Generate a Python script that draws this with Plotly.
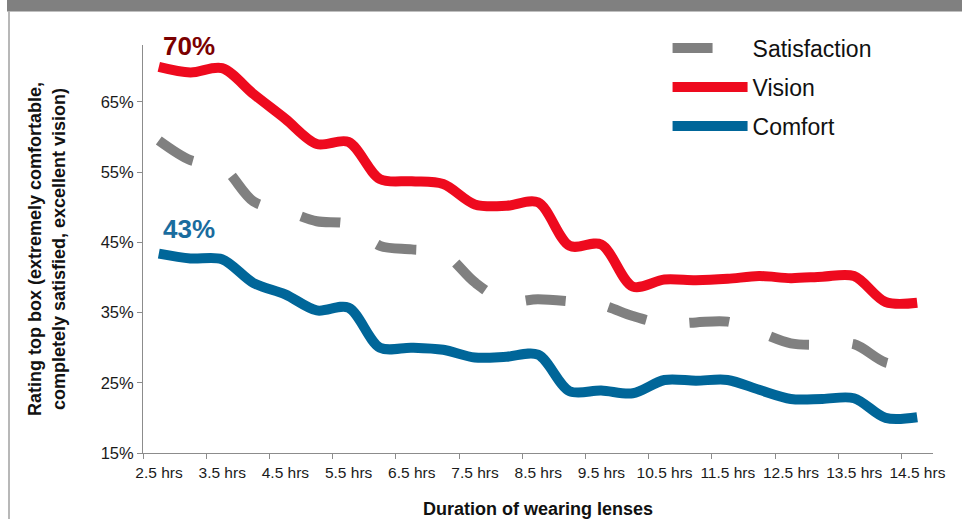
import plotly.graph_objects as go

hours = [2.5, 3.0, 3.5, 4.0, 4.5, 5.0, 5.5, 6.0, 6.5, 7.0, 7.5, 8.0, 8.5,
         9.0, 9.5, 10.0, 10.5, 11.0, 11.5, 12.0, 12.5, 13.0, 13.5, 14.0, 14.5]

satisfaction = [59.5, 56.7, 55.8, 50.8, 49.5, 48.0, 47.6, 44.5, 44.0, 43.5, 39.3, 36.6, 36.9,
                36.6, 36.1, 34.5, 33.4, 33.6, 33.7, 32.2, 30.6, 30.4, 30.5, 27.9, 27.5]
vision = [70.0, 69.2, 69.8, 66.1, 62.6, 59.0, 59.3, 54.0, 53.7, 53.3, 50.4, 50.2, 50.7,
          44.5, 44.7, 38.7, 39.7, 39.6, 39.8, 40.2, 39.9, 40.1, 40.2, 36.5, 36.4]
comfort = [43.4, 42.7, 42.6, 39.2, 37.6, 35.3, 35.7, 30.0, 30.0, 29.7, 28.6, 28.7, 29.0,
           23.8, 23.9, 23.5, 25.4, 25.3, 25.4, 24.0, 22.7, 22.7, 22.8, 20.0, 20.1]

tick_hours = [2.5, 3.5, 4.5, 5.5, 6.5, 7.5, 8.5, 9.5, 10.5, 11.5, 12.5, 13.5, 14.5]
tick_labels = [f"{h} hrs" for h in tick_hours]
y_ticks = [15, 25, 35, 45, 55, 65]
y_labels = [f"{v}%" for v in y_ticks]

FONT = "Liberation Sans, Arial, sans-serif"
GRAY = "#808080"
RED = "#EE0A1E"
BLUE = "#006699"
DARKRED = "#7B0000"
LABELBLUE = "#1A6C9E"

fig = go.Figure()
fig.add_trace(go.Scatter(x=hours, y=satisfaction, name="Satisfaction", mode="lines",
                         line=dict(color=GRAY, width=10, dash="40px,43.5px", shape="spline", smoothing=0.9),
                         legendgroup="a"))
fig.add_trace(go.Scatter(x=hours, y=vision, name="Vision", mode="lines",
                         line=dict(color=RED, width=10, shape="spline", smoothing=0.9),
                         legendgroup="b"))
fig.add_trace(go.Scatter(x=hours, y=comfort, name="Comfort", mode="lines",
                         line=dict(color=BLUE, width=10, shape="spline", smoothing=0.9),
                         legendgroup="c"))

# boundaries between categories for tick marks
tick_pos = [h - 0.25 for h in tick_hours]

fig.update_layout(
    width=962, height=519,
    margin=dict(l=143, r=29, t=45, b=66),
    paper_bgcolor="white", plot_bgcolor="white",
    font=dict(family=FONT, color="#1a1a1a"),
    showlegend=True,
    legend=dict(x=0.664, y=1.045, xanchor="left", yanchor="top",
                font=dict(size=23, family=FONT, color="#111"),
                itemwidth=75, tracegroupgap=6, traceorder="grouped",
                bgcolor="rgba(0,0,0,0)"),
    xaxis=dict(range=[2.25, 14.75], tickmode="array", tickvals=tick_pos, ticktext=tick_labels,
               ticklabelshift=16, ticks="outside", ticklen=5, tickcolor="#8c8c8c",
               showline=True, linecolor="#8c8c8c", linewidth=1, showgrid=False, zeroline=False,
               automargin=False,
               tickfont=dict(size=15.5, family=FONT, color="#1a1a1a"),
               title=dict(text="<b>Duration of wearing lenses</b>", font=dict(size=18, family=FONT, color="#111"),
                          standoff=30)),
    yaxis=dict(range=[15, 73.1], tickmode="array", tickvals=y_ticks, ticktext=y_labels,
               ticks="outside", ticklen=5, tickcolor="#8c8c8c",
               showline=True, linecolor="#8c8c8c", linewidth=1, showgrid=False, zeroline=False,
               automargin=False,
               tickfont=dict(size=16.5, family=FONT, color="#1a1a1a"),
               title=dict(text="<b>Rating top box (extremely comfortable,<br>completely satisfied, excellent vision)</b>",
                          font=dict(size=18, family=FONT, color="#111"), standoff=30)),
)

annots = [
    dict(x=2.98, y=72.9, text="<b>70%</b>", color=DARKRED),
    dict(x=2.98, y=46.9, text="<b>43%</b>", color=LABELBLUE),
    dict(x=14.77, y=39.1, text="<b>36%</b>", color=DARKRED),
    dict(x=14.77, y=23.4, text="<b>20%</b>", color=LABELBLUE),
]
for a in annots:
    fig.add_annotation(x=a["x"], y=a["y"], xref="x", yref="y", text=a["text"], showarrow=False,
                       font=dict(size=26, family=FONT, color=a["color"]), xanchor="center", yanchor="middle")

# decorative frame: top bar and left rule
fig.add_shape(type="rect", xref="paper", yref="paper", x0=(7 - 143) / 790, x1=(962 - 143) / 790,
              y0=(453 - 11.5) / 408, y1=(453 + 2) / 408, fillcolor=GRAY, line=dict(width=0), layer="below")
fig.add_shape(type="line", xref="paper", yref="paper", x0=(9 - 143) / 790, x1=(9 - 143) / 790,
              y0=(453 - 11.5) / 408, y1=(453 - 520) / 408, line=dict(color="#a0a0a0", width=1.5))

fig.write_html("out.html")
